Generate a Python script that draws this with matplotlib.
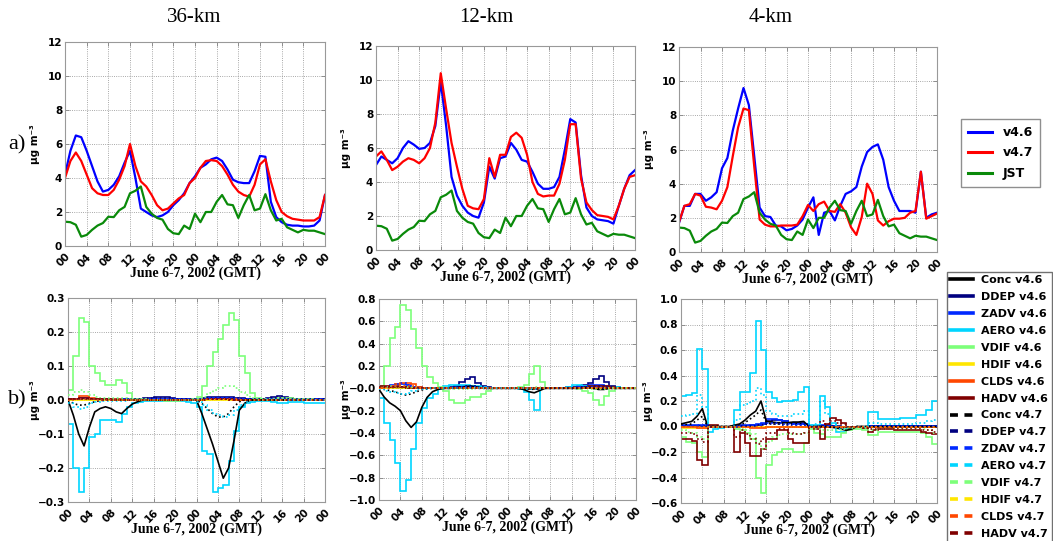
import numpy as np
import matplotlib
matplotlib.use("Agg")
import matplotlib.pyplot as plt
from matplotlib.lines import Line2D
from matplotlib.ticker import FuncFormatter

plt.rcParams["font.family"] = ["DejaVu Sans"]
plt.rcParams["font.weight"] = "bold"

# ---------------------------------------------------------------- axes data
hours = np.arange(49)            # hourly samples, June 6 00 GMT .. June 8 00 GMT
edges = np.arange(49)            # hour boundaries for the process budgets
tick_hours = np.arange(0, 49, 4)
tick_labels = ["00", "04", "08", "12", "16", "20", "00",
               "04", "08", "12", "16", "20", "00"]
panel_titles = ["36-km", "12-km", "4-km"]

# ---------------------------------------------------------------- row a) concentrations
jst_obs = [1.43, 1.4, 1.25, 0.55, 0.65, 0.95, 1.2, 1.35, 1.72, 1.7, 2.1, 2.3,
           3.1, 3.25, 3.5, 2.3, 1.9, 1.65, 1.55, 1.0, 0.75, 0.7, 1.2, 1.0,
           1.9, 1.4, 2.0, 2.0, 2.6, 3.0, 2.45, 2.4, 1.65, 2.4, 3.0, 2.1,
           2.2, 3.05, 2.1, 1.5, 1.6, 1.1, 0.95, 0.8, 0.95, 0.9, 0.9, 0.8,
           0.7]

conc36_v46 = [4.2, 5.6, 6.5, 6.4, 5.6, 4.7, 3.8, 3.2, 3.3, 3.6, 4.1, 4.9,
              5.6, 4.0, 2.2, 2.0, 1.8, 1.7, 1.8, 2.0, 2.4, 2.7, 3.1, 3.7,
              4.1, 4.6, 4.8, 5.1, 5.2, 5.0, 4.5, 3.9, 3.75, 3.7, 3.7, 4.4,
              5.3, 5.25, 2.6, 1.7, 1.4, 1.25, 1.2, 1.2, 1.15, 1.15, 1.2, 1.5,
              3.0]
conc36_v47 = [4.0, 5.0, 5.5, 5.0, 4.2, 3.4, 3.1, 3.0, 3.0, 3.3, 3.9, 4.7,
              6.0, 4.7, 3.8, 3.5, 3.0, 2.4, 2.1, 2.2, 2.5, 2.8, 3.0, 3.7,
              4.0, 4.6, 5.0, 5.05, 5.0, 4.7, 4.2, 3.6, 3.2, 3.0, 2.9, 3.6,
              4.8, 5.1, 3.8, 2.7, 2.0, 1.75, 1.6, 1.55, 1.5, 1.5, 1.5, 1.7,
              3.0]

conc12_v46 = [5.0, 5.5, 5.3, 5.1, 5.4, 6.0, 6.4, 6.2, 5.95, 6.0, 6.3, 7.3,
              9.9, 7.3, 4.3, 3.2, 2.6, 2.2, 2.0, 1.9, 2.8, 4.9, 4.2, 5.4,
              5.5, 6.3, 5.9, 5.3, 5.2, 4.6, 3.9, 3.6, 3.6, 3.7, 4.3, 5.9,
              7.7, 7.5, 4.4, 2.5, 2.0, 1.8, 1.75, 1.7, 1.55, 2.6, 3.6, 4.4,
              4.7]
conc12_v47 = [5.5, 5.8, 5.3, 4.7, 4.9, 5.2, 5.4, 5.3, 5.1, 5.4, 6.0, 7.5,
              10.4, 8.3, 6.3, 4.9, 3.6, 2.6, 2.45, 2.4, 3.0, 5.4, 4.3, 5.6,
              5.6, 6.65, 6.9, 6.6, 5.6, 4.0, 3.3, 3.15, 3.2, 3.2, 3.9, 5.3,
              7.4, 7.4, 4.2, 2.8, 2.35, 2.05, 2.0, 1.95, 1.8, 2.6, 3.6, 4.3,
              4.4]

conc4_v46 = [1.7, 2.7, 2.7, 3.4, 3.4, 3.0, 3.2, 3.5, 4.9, 5.5, 7.1, 8.4,
             9.6, 8.6, 5.6, 2.6, 2.1, 2.05, 1.55, 1.5, 1.27, 1.35, 1.55, 1.9,
             2.6, 3.2, 1.0, 2.3, 2.4, 1.85, 2.7, 3.4, 3.55, 3.8, 5.0, 5.85,
             6.15, 6.3, 5.4, 3.8, 3.0, 2.4, 2.4, 2.4, 2.3, 4.7, 2.0, 2.2,
             2.3]
conc4_v47 = [1.75, 2.7, 2.8, 3.4, 3.3, 2.65, 2.6, 2.5, 3.0, 3.8, 5.6, 7.3,
             8.4, 8.3, 5.0, 1.9, 1.6, 1.5, 1.5, 1.55, 1.55, 1.55, 1.6, 2.1,
             2.75, 2.4, 2.8, 2.95, 2.4, 2.35, 2.8, 2.3, 1.45, 1.0, 2.05, 4.0,
             3.4, 1.85, 1.55, 1.8, 1.95, 1.95, 2.0, 2.3, 2.4, 4.7, 1.95, 2.1,
             2.25]

# ---------------------------------------------------------------- row b) 36-km process budgets
b36_conc_v46 = [0.0, -0.045, -0.1, -0.135, -0.08, -0.035, -0.025, -0.02, -0.025, -0.035, -0.04, -0.025,
                -0.012, -0.005, 0.0, 0.0, 0.0, 0.0, 0.0, 0.0, 0.0, 0.0, 0.0, 0.0,
                0.0, -0.04, -0.085, -0.13, -0.18, -0.23, -0.2, -0.12, -0.03, -0.01, 0.0, 0.0,
                0.0, 0.0, 0.0, 0.0, 0.0, 0.0, 0.0, 0.0, 0.0, 0.0, 0.0, 0.0,
                0.0]
b36_ddep_v46 = [0.002, 0.002, 0.003, 0.003, 0.003, 0.003, 0.003, 0.003, 0.003, 0.003, 0.003, 0.003,
                0.003, 0.004, 0.005, 0.007, 0.010, 0.010, 0.008, 0.005, 0.004, 0.003, 0.003, 0.003,
                0.004, 0.006, 0.008, 0.009, 0.010, 0.010, 0.009, 0.007, 0.005, 0.004, 0.003, 0.003,
                0.004, 0.006, 0.010, 0.011, 0.009, 0.006, 0.004, 0.003, 0.003, 0.003, 0.002, 0.002]
b36_zadv_v46 = [0.002, 0.004, 0.006, 0.006, 0.004, 0.003, 0.002, 0.002, 0.002, 0.002, 0.002, 0.002,
                0.002, 0.002, 0.002, 0.003, 0.004, 0.004, 0.003, 0.002, 0.002, 0.002, 0.002, 0.002,
                0.003, 0.004, 0.005, 0.006, 0.007, 0.007, 0.006, 0.004, 0.003, 0.002, 0.002, 0.002,
                0.002, 0.003, 0.004, 0.004, 0.003, 0.002, 0.002, 0.002, 0.002, 0.002, 0.002, 0.002]
b36_aero_v46 = [-0.07, -0.2, -0.27, -0.2, -0.11, -0.1, -0.06, -0.06, -0.06, -0.065, -0.04, -0.02,
                -0.01, -0.005, -0.003, -0.002, -0.002, -0.003, -0.002, -0.002, -0.002, -0.003, -0.005, -0.01,
                -0.02, -0.15, -0.16, -0.27, -0.26, -0.25, -0.18, -0.09, -0.02, -0.01, -0.005, -0.003,
                -0.003, -0.002, -0.005, -0.008, -0.008, -0.005, -0.005, -0.006, -0.008, -0.01, -0.01, -0.01]
b36_vdif_v46 = [0.03, 0.13, 0.24, 0.23, 0.10, 0.08, 0.055, 0.045, 0.045, 0.06, 0.05, 0.02,
                0.003, 0.002, 0.002, 0.001, 0.001, 0.0, -0.002, -0.003, -0.002, 0.0, 0.001, 0.002,
                0.01, 0.04, 0.1, 0.14, 0.18, 0.22, 0.255, 0.235, 0.13, 0.08, 0.02, 0.005,
                0.002, 0.002, 0.004, 0.006, 0.006, 0.005, 0.004, 0.003, 0.002, 0.002, 0.001, 0.001]
b36_hdif_v46 = [0.0, 0.001, 0.001, 0.001, 0.001, 0.0, 0.0, 0.0, 0.0, 0.0, 0.0, 0.0,
                0.0, 0.0, 0.0, 0.0, 0.0, 0.0, 0.0, 0.0, 0.0, 0.0, 0.0, 0.0,
                0.0, 0.001, 0.001, 0.001, 0.001, 0.001, 0.001, 0.0, 0.0, 0.0, 0.0, 0.0,
                0.0, 0.0, 0.0, 0.0, 0.0, 0.0, 0.0, 0.0, 0.0, 0.0, 0.0, 0.0]
b36_clds_v46 = [0.002, 0.004, 0.012, 0.013, 0.006, 0.003, 0.002, 0.002, 0.002, 0.002, 0.001, 0.001,
                0.001, 0.0, 0.0, 0.0, 0.0, 0.0, 0.0, 0.0, 0.0, 0.0, 0.0, 0.001,
                0.001, 0.002, 0.003, 0.004, 0.004, 0.004, 0.003, 0.002, 0.001, 0.001, 0.0, 0.0,
                0.0, 0.0, 0.0, 0.0, 0.0, 0.0, 0.0, 0.0, 0.0, 0.0, 0.0, 0.0]
b36_hadv_v46 = [0.003, 0.004, 0.005, 0.005, 0.004, 0.003, 0.002, 0.002, 0.001, 0.001, 0.001, 0.0,
                0.0, 0.0, -0.001, -0.001, -0.001, -0.001, -0.001, 0.0, 0.0, 0.0, 0.0, 0.0,
                0.001, 0.002, 0.003, 0.003, 0.003, 0.003, 0.002, 0.001, 0.001, 0.0, 0.0, 0.0,
                -0.001, -0.001, -0.001, -0.001, -0.001, 0.0, 0.0, 0.0, 0.0, 0.0, 0.0, 0.0]
b36_conc_v47 = [0.0, -0.01, -0.015, -0.015, -0.01, -0.005, -0.002, 0.0, 0.0, 0.0, 0.0, 0.0,
                0.0, 0.0, 0.0, 0.0, 0.0, 0.0, 0.0, 0.0, 0.0, 0.0, 0.0, 0.0,
                0.0, -0.01, -0.025, -0.04, -0.05, -0.05, -0.04, -0.02, -0.005, 0.0, 0.0, 0.0,
                0.0, 0.0, 0.0, 0.0, 0.0, 0.0, 0.0, 0.0, 0.0, 0.0, 0.0, 0.0,
                0.0]
b36_ddep_v47 = [0.002, 0.002, 0.002, 0.002, 0.002, 0.002, 0.002, 0.002, 0.002, 0.002, 0.002, 0.002,
                0.002, 0.003, 0.004, 0.005, 0.007, 0.007, 0.006, 0.004, 0.003, 0.002, 0.002, 0.002,
                0.003, 0.004, 0.005, 0.006, 0.007, 0.007, 0.006, 0.005, 0.004, 0.003, 0.002, 0.002,
                0.003, 0.004, 0.006, 0.007, 0.006, 0.004, 0.003, 0.002, 0.002, 0.002, 0.002, 0.002]
b36_zadv_v47 = [0.001, 0.002, 0.003, 0.003, 0.002, 0.001, 0.001, 0.001, 0.001, 0.001, 0.001, 0.001,
                0.001, 0.001, 0.001, 0.002, 0.002, 0.002, 0.002, 0.001, 0.001, 0.001, 0.001, 0.001,
                0.002, 0.003, 0.004, 0.005, 0.005, 0.005, 0.004, 0.003, 0.002, 0.001, 0.001, 0.001,
                0.001, 0.002, 0.002, 0.002, 0.002, 0.001, 0.001, 0.001, 0.001, 0.001, 0.001, 0.001]
b36_aero_v47 = [-0.01, -0.02, -0.025, -0.02, -0.01, -0.006, -0.004, -0.003, -0.003, -0.003, -0.002, -0.001,
                0.0, 0.0, 0.0, 0.0, 0.0, 0.0, 0.0, 0.0, 0.0, 0.0, 0.0, -0.001,
                -0.005, -0.015, -0.03, -0.04, -0.045, -0.05, -0.045, -0.03, -0.015, -0.005, -0.002, 0.0,
                0.0, 0.0, 0.0, 0.0, 0.0, 0.0, 0.0, 0.0, 0.0, 0.0, 0.0, 0.0]
b36_vdif_v47 = [0.015, 0.025, 0.03, 0.025, 0.015, 0.01, 0.005, 0.005, 0.005, 0.005, 0.005, 0.003,
                0.0, 0.0, 0.0, 0.0, 0.0, 0.0, 0.0, 0.0, 0.0, 0.0, 0.0, 0.0,
                0.002, 0.01, 0.02, 0.03, 0.035, 0.04, 0.04, 0.035, 0.025, 0.015, 0.005, 0.0,
                0.0, 0.0, 0.0, 0.0, 0.0, 0.0, 0.0, 0.0, 0.0, 0.0, 0.0, 0.0]
b36_hdif_v47 = [0.0, 0.0, 0.001, 0.001, 0.0, 0.0, 0.0, 0.0, 0.0, 0.0, 0.0, 0.0,
                0.0, 0.0, 0.0, 0.0, 0.0, 0.0, 0.0, 0.0, 0.0, 0.0, 0.0, 0.0,
                0.0, 0.0, 0.001, 0.001, 0.001, 0.001, 0.0, 0.0, 0.0, 0.0, 0.0, 0.0,
                0.0, 0.0, 0.0, 0.0, 0.0, 0.0, 0.0, 0.0, 0.0, 0.0, 0.0, 0.0]
b36_clds_v47 = [0.001, 0.002, 0.004, 0.004, 0.002, 0.001, 0.001, 0.001, 0.0, 0.0, 0.0, 0.0,
                0.0, 0.0, 0.0, 0.0, 0.0, 0.0, 0.0, 0.0, 0.0, 0.0, 0.0, 0.0,
                0.0, 0.001, 0.002, 0.002, 0.002, 0.002, 0.001, 0.001, 0.0, 0.0, 0.0, 0.0,
                0.0, 0.0, 0.0, 0.0, 0.0, 0.0, 0.0, 0.0, 0.0, 0.0, 0.0, 0.0]
b36_hadv_v47 = [0.002, 0.003, 0.003, 0.003, 0.002, 0.002, 0.001, 0.001, 0.001, 0.0, 0.0, 0.0,
                0.0, 0.0, 0.0, -0.001, -0.001, -0.001, 0.0, 0.0, 0.0, 0.0, 0.0, 0.0,
                0.001, 0.001, 0.002, 0.002, 0.002, 0.002, 0.001, 0.001, 0.0, 0.0, 0.0, 0.0,
                0.0, -0.001, -0.001, -0.001, 0.0, 0.0, 0.0, 0.0, 0.0, 0.0, 0.0, 0.0]

# ---------------------------------------------------------------- row b) 12-km process budgets
b12_conc_v46 = [-0.01, -0.08, -0.13, -0.16, -0.2, -0.29, -0.35, -0.3, -0.17, -0.08, -0.03, -0.01,
                0.0, 0.0, 0.005, 0.01, 0.015, 0.02, 0.015, 0.005, 0.0, 0.0, 0.0, 0.0,
                0.0, 0.0, 0.0, -0.01, -0.03, -0.04, -0.02, 0.0, 0.0, 0.0, 0.0, 0.0,
                0.0, 0.0, 0.005, 0.01, 0.0, -0.01, -0.01, 0.0, 0.0, 0.0, 0.0, 0.0,
                0.0]
b12_ddep_v46 = [0.005, 0.01, 0.01, 0.01, 0.01, 0.01, 0.01, 0.01, 0.005, 0.005, 0.005, 0.005,
                0.005, 0.01, 0.02, 0.06, 0.08, 0.1, 0.05, 0.02, 0.01, 0.005, 0.005, 0.005,
                0.005, 0.005, 0.005, 0.005, 0.005, 0.005, 0.005, 0.005, 0.005, 0.005, 0.005, 0.01,
                0.01, 0.02, 0.03, 0.05, 0.08, 0.11, 0.06, 0.02, 0.01, 0.005, 0.005, 0.005]
b12_zadv_v46 = [0.005, 0.01, 0.03, 0.04, 0.04, 0.03, 0.01, 0.005, 0.005, 0.005, 0.005, 0.005,
                0.005, 0.005, 0.01, 0.02, 0.02, 0.02, 0.015, 0.01, 0.005, 0.005, 0.005, 0.005,
                0.005, 0.005, 0.005, 0.005, 0.005, 0.005, 0.005, 0.005, 0.005, 0.005, 0.005, 0.005,
                0.005, 0.01, 0.02, 0.03, 0.03, 0.03, 0.02, 0.01, 0.005, 0.005, 0.005, 0.005]
b12_aero_v46 = [-0.09, -0.31, -0.46, -0.67, -0.92, -0.82, -0.54, -0.31, -0.18, -0.09, -0.05, -0.01,
                0.02, 0.03, 0.03, 0.03, 0.03, 0.02, 0.02, 0.01, 0.005, 0.0, 0.0, 0.0,
                0.0, 0.0, -0.01, -0.03, -0.1, -0.19, 0.0, 0.0, 0.0, 0.0, 0.0, 0.01,
                0.03, 0.03, 0.02, 0.02, 0.01, 0.01, 0.01, 0.01, 0.01, 0.005, 0.005, 0.0]
b12_vdif_v46 = [0.02, 0.2, 0.45, 0.55, 0.75, 0.7, 0.53, 0.36, 0.2, 0.1, 0.045, 0.01,
                -0.02, -0.1, -0.13, -0.13, -0.1, -0.08, -0.08, -0.05, -0.02, 0.0, 0.0, 0.0,
                0.0, 0.0, 0.01, 0.03, 0.13, 0.2, 0.06, 0.0, 0.0, 0.0, 0.0, 0.0,
                0.0, -0.01, -0.02, -0.04, -0.1, -0.15, -0.07, -0.02, 0.0, 0.0, 0.0, 0.0]
b12_hdif_v46 = [0.0, 0.002, 0.003, 0.003, 0.003, 0.002, 0.0, 0.0, 0.0, 0.0, 0.0, 0.0,
                0.0, 0.0, 0.0, 0.0, 0.0, 0.0, 0.0, 0.0, 0.0, 0.0, 0.0, 0.0,
                0.0, 0.0, 0.0, 0.0, 0.0, 0.0, 0.0, 0.0, 0.0, 0.0, 0.0, 0.0,
                0.0, 0.0, 0.0, 0.0, 0.0, 0.0, 0.0, 0.0, 0.0, 0.0, 0.0, 0.0]
b12_clds_v46 = [0.005, 0.01, 0.02, 0.04, 0.05, 0.05, 0.04, 0.01, 0.005, 0.0, 0.0, 0.0,
                0.0, 0.0, 0.005, 0.005, 0.01, 0.01, 0.005, 0.0, 0.0, 0.0, 0.0, 0.0,
                0.0, 0.0, 0.0, 0.0, 0.0, 0.0, 0.0, 0.0, 0.0, 0.0, 0.0, 0.0,
                0.0, 0.0, 0.005, 0.01, 0.01, 0.01, 0.005, 0.0, 0.0, 0.0, 0.0, 0.0]
b12_hadv_v46 = [0.02, 0.02, 0.01, 0.02, 0.01, 0.005, 0.005, 0.0, 0.0, 0.0, 0.0, 0.0,
                0.0, 0.0, 0.005, 0.01, 0.01, 0.01, 0.005, 0.0, 0.0, 0.0, 0.0, 0.0,
                0.0, 0.0, 0.0, -0.005, -0.01, -0.01, 0.0, 0.0, 0.0, 0.0, 0.0, 0.0,
                0.0, 0.0, 0.01, 0.02, 0.02, 0.02, 0.02, 0.01, 0.0, 0.0, 0.0, 0.0]
b12_conc_v47 = [0.0, -0.01, -0.02, -0.03, -0.05, -0.06, -0.05, -0.03, -0.015, -0.005, 0.0, 0.0,
                0.0, 0.0, 0.0, 0.005, 0.005, 0.005, 0.0, 0.0, 0.0, 0.0, 0.0, 0.0,
                0.0, 0.0, 0.0, 0.0, -0.005, -0.01, 0.0, 0.0, 0.0, 0.0, 0.0, 0.0,
                0.0, 0.0, 0.0, 0.005, 0.005, 0.0, 0.0, 0.0, 0.0, 0.0, 0.0, 0.0,
                0.0]
b12_ddep_v47 = [0.005, 0.005, 0.005, 0.005, 0.005, 0.005, 0.005, 0.005, 0.005, 0.005, 0.005, 0.005,
                0.005, 0.005, 0.01, 0.015, 0.02, 0.02, 0.015, 0.01, 0.005, 0.005, 0.005, 0.005,
                0.005, 0.005, 0.005, 0.005, 0.005, 0.005, 0.005, 0.005, 0.005, 0.005, 0.005, 0.005,
                0.005, 0.005, 0.01, 0.015, 0.02, 0.02, 0.015, 0.01, 0.005, 0.005, 0.005, 0.005]
b12_zadv_v47 = [0.005, 0.01, 0.02, 0.04, 0.05, 0.03, 0.01, 0.005, 0.005, 0.005, 0.005, 0.005,
                0.005, 0.005, 0.005, 0.01, 0.01, 0.01, 0.005, 0.005, 0.005, 0.005, 0.005, 0.005,
                0.005, 0.005, 0.005, 0.005, 0.005, 0.005, 0.005, 0.005, 0.005, 0.005, 0.005, 0.005,
                0.005, 0.005, 0.01, 0.01, 0.01, 0.01, 0.005, 0.005, 0.005, 0.005, 0.005, 0.005]
b12_aero_v47 = [-0.01, -0.02, -0.03, -0.04, -0.05, -0.04, -0.02, -0.01, -0.005, 0.0, 0.0, 0.0,
                0.0, 0.0, 0.0, 0.0, 0.0, 0.0, 0.0, 0.0, 0.0, 0.0, 0.0, 0.0,
                0.0, 0.0, 0.0, -0.005, -0.01, -0.01, 0.0, 0.0, 0.0, 0.0, 0.0, 0.0,
                0.0, 0.0, 0.0, 0.0, 0.0, 0.0, 0.0, 0.0, 0.0, 0.0, 0.0, 0.0]
b12_vdif_v47 = [0.0, 0.01, 0.02, 0.02, 0.02, 0.015, 0.01, 0.005, 0.0, 0.0, 0.0, 0.0,
                0.0, -0.005, -0.01, -0.01, -0.01, -0.005, 0.0, 0.0, 0.0, 0.0, 0.0, 0.0,
                0.0, 0.0, 0.0, 0.0, 0.005, 0.01, 0.0, 0.0, 0.0, 0.0, 0.0, 0.0,
                0.0, 0.0, 0.0, -0.005, -0.01, -0.01, -0.005, 0.0, 0.0, 0.0, 0.0, 0.0]
b12_hdif_v47 = [0.0, 0.0, 0.002, 0.002, 0.002, 0.0, 0.0, 0.0, 0.0, 0.0, 0.0, 0.0,
                0.0, 0.0, 0.0, 0.0, 0.0, 0.0, 0.0, 0.0, 0.0, 0.0, 0.0, 0.0,
                0.0, 0.0, 0.0, 0.0, 0.0, 0.0, 0.0, 0.0, 0.0, 0.0, 0.0, 0.0,
                0.0, 0.0, 0.0, 0.0, 0.0, 0.0, 0.0, 0.0, 0.0, 0.0, 0.0, 0.0]
b12_clds_v47 = [0.0, 0.005, 0.01, 0.02, 0.02, 0.02, 0.02, 0.005, 0.0, 0.0, 0.0, 0.0,
                0.0, 0.0, 0.0, 0.005, 0.005, 0.005, 0.0, 0.0, 0.0, 0.0, 0.0, 0.0,
                0.0, 0.0, 0.0, 0.0, 0.0, 0.0, 0.0, 0.0, 0.0, 0.0, 0.0, 0.0,
                0.0, 0.0, 0.0, 0.005, 0.005, 0.005, 0.0, 0.0, 0.0, 0.0, 0.0, 0.0]
b12_hadv_v47 = [0.01, 0.01, 0.01, 0.01, 0.01, 0.005, 0.0, 0.0, 0.0, 0.0, 0.0, 0.0,
                0.0, 0.0, 0.005, 0.005, 0.005, 0.005, 0.0, 0.0, 0.0, 0.0, 0.0, 0.0,
                0.0, 0.0, 0.0, 0.0, 0.0, 0.0, 0.0, 0.0, 0.0, 0.0, 0.0, 0.0,
                0.0, 0.0, 0.005, 0.01, 0.01, 0.01, 0.005, 0.0, 0.0, 0.0, 0.0, 0.0]

# ---------------------------------------------------------------- row b) 4-km process budgets
b4_conc_v46 = [0.02, 0.03, 0.04, 0.08, 0.14, 0.0, 0.0, 0.0, 0.0, 0.0, 0.01, 0.02,
               0.05, 0.09, 0.12, 0.2, 0.04, 0.035, 0.03, 0.03, 0.03, 0.035, 0.035, 0.04,
               0.0, 0.0, 0.0, 0.0, -0.005, -0.01, -0.02, -0.03, -0.02, 0.0, 0.0, 0.0,
               0.0, 0.0, 0.0, 0.0, 0.0, 0.0, 0.0, 0.0, 0.0, 0.0, 0.0, 0.0,
               0.0]
b4_ddep_v46 = [0.005, 0.005, 0.005, 0.005, 0.005, 0.0, 0.0, 0.0, 0.0, 0.0, 0.003, 0.005,
               0.005, 0.008, 0.01, 0.02, 0.04, 0.05, 0.05, 0.04, 0.03, 0.03, 0.03, 0.02,
               0.0, 0.0, 0.005, 0.005, 0.005, 0.005, 0.0, 0.0, 0.0, 0.0, 0.0, 0.005,
               0.005, 0.005, 0.005, 0.005, 0.005, 0.005, 0.005, 0.005, 0.005, 0.005, 0.005, 0.005]
b4_zadv_v46 = [0.01, 0.01, 0.01, 0.015, 0.015, 0.0, 0.0, 0.0, 0.0, 0.0, 0.005, 0.01,
               0.01, 0.01, 0.02, 0.03, 0.06, 0.06, 0.05, 0.04, 0.03, 0.02, 0.02, 0.02,
               0.0, 0.0, 0.01, 0.01, 0.005, 0.0, 0.0, 0.0, 0.0, 0.0, 0.0, 0.005,
               0.005, 0.005, 0.005, 0.005, 0.005, 0.005, 0.005, 0.005, 0.005, 0.005, 0.005, 0.005]
b4_aero_v46 = [0.24, 0.25, 0.26, 0.61, 0.45, -0.04, -0.02, -0.01, 0.0, 0.0, 0.13, 0.27,
               0.27, 0.42, 0.83, 0.6, 0.27, 0.22, 0.19, 0.2, 0.2, 0.21, 0.27, 0.31,
               0.01, 0.01, 0.24, 0.15, 0.03, -0.04, -0.04, -0.01, 0.0, 0.0, 0.0, 0.11,
               0.11, 0.06, 0.06, 0.06, 0.06, 0.07, 0.07, 0.07, 0.09, 0.09, 0.13, 0.2]
b4_vdif_v46 = [-0.08, -0.12, -0.13, -0.2, -0.24, 0.0, 0.0, 0.0, 0.0, 0.0, -0.02, -0.03,
               -0.05, -0.1, -0.4, -0.52, -0.3, -0.22, -0.2, -0.18, -0.18, -0.2, -0.2, -0.13,
               -0.02, -0.05, -0.06, -0.08, -0.08, -0.08, -0.05, -0.03, -0.02, -0.02, -0.03, -0.07,
               -0.07, -0.04, -0.04, -0.04, -0.04, -0.04, -0.04, -0.04, -0.04, -0.05, -0.08, -0.14]
b4_hdif_v46 = [-0.01, -0.01, -0.01, -0.01, -0.01, 0.0, 0.0, 0.0, 0.0, 0.0, 0.0, -0.005,
               -0.005, -0.005, -0.005, -0.005, 0.0, 0.0, 0.0, 0.0, 0.0, 0.0, 0.0, 0.0,
               0.0, 0.0, 0.0, 0.0, 0.0, 0.0, 0.0, 0.0, 0.0, 0.0, 0.0, 0.0,
               0.0, 0.0, 0.0, 0.0, 0.0, 0.0, 0.0, 0.0, 0.0, 0.0, 0.0, 0.0]
b4_clds_v46 = [-0.005, -0.005, -0.005, -0.008, -0.008, 0.0, 0.0, 0.0, 0.0, 0.0, 0.0, -0.005,
               -0.005, -0.01, -0.01, -0.01, -0.005, 0.0, 0.0, 0.0, 0.0, 0.0, 0.0, 0.0,
               0.0, 0.0, 0.0, 0.0, 0.0, 0.0, 0.0, 0.0, 0.0, 0.0, 0.0, 0.0,
               0.0, 0.0, 0.0, 0.0, 0.0, 0.0, 0.0, 0.0, 0.0, 0.0, 0.0, 0.0]
b4_hadv_v46 = [-0.1, -0.1, -0.11, -0.26, -0.3, 0.01, 0.01, 0.0, 0.0, 0.0, -0.2, -0.05,
               -0.13, -0.23, -0.23, -0.18, -0.1, -0.1, -0.03, -0.03, -0.1, -0.13, -0.13, -0.13,
               0.0, -0.02, -0.1, 0.02, 0.07, 0.05, 0.03, 0.0, 0.0, 0.0, -0.01, -0.04,
               -0.03, -0.02, -0.02, -0.02, -0.03, -0.03, -0.03, -0.03, -0.03, -0.04, -0.05, -0.06]
b4_conc_v47 = [0.01, 0.015, 0.02, 0.05, 0.08, 0.0, 0.0, 0.0, 0.0, 0.0, 0.0, 0.01,
               0.03, 0.06, 0.09, 0.13, 0.03, 0.02, 0.02, 0.02, 0.02, 0.02, 0.02, 0.02,
               0.0, 0.0, 0.0, 0.0, 0.0, -0.005, -0.01, -0.015, -0.01, 0.0, 0.0, 0.0,
               0.0, 0.0, 0.0, 0.0, 0.0, 0.0, 0.0, 0.0, 0.0, 0.0, 0.0, 0.0,
               0.0]
b4_ddep_v47 = [0.003, 0.003, 0.003, 0.003, 0.003, 0.0, 0.0, 0.0, 0.0, 0.0, 0.0, 0.003,
               0.003, 0.005, 0.008, 0.01, 0.02, 0.02, 0.02, 0.015, 0.015, 0.01, 0.01, 0.01,
               0.0, 0.0, 0.003, 0.003, 0.003, 0.0, 0.0, 0.0, 0.0, 0.0, 0.0, 0.003,
               0.003, 0.003, 0.003, 0.003, 0.003, 0.003, 0.003, 0.003, 0.003, 0.003, 0.003, 0.003]
b4_zadv_v47 = [0.005, 0.005, 0.005, 0.01, 0.01, 0.0, 0.0, 0.0, 0.0, 0.0, 0.0, 0.005,
               0.005, 0.005, 0.01, 0.02, 0.03, 0.03, 0.03, 0.02, 0.02, 0.01, 0.01, 0.01,
               0.0, 0.0, 0.005, 0.005, 0.0, 0.0, 0.0, 0.0, 0.0, 0.0, 0.0, 0.003,
               0.003, 0.003, 0.003, 0.003, 0.003, 0.003, 0.003, 0.003, 0.003, 0.003, 0.003, 0.003]
b4_aero_v47 = [0.08, 0.09, 0.1, 0.25, 0.15, 0.0, 0.0, 0.0, 0.0, 0.0, 0.05, 0.17,
               0.18, 0.2, 0.3, 0.25, 0.12, 0.1, 0.08, 0.08, 0.08, 0.1, 0.1, 0.12,
               0.01, 0.02, 0.2, 0.1, 0.02, -0.02, -0.02, 0.0, 0.0, 0.0, 0.0, 0.03,
               0.03, 0.02, 0.02, 0.02, 0.02, 0.02, 0.02, 0.02, 0.03, 0.03, 0.04, 0.05]
b4_vdif_v47 = [-0.03, -0.04, -0.05, -0.08, -0.1, 0.0, 0.0, 0.0, 0.0, 0.0, -0.01, -0.02,
               -0.03, -0.06, -0.13, -0.18, -0.12, -0.08, -0.07, -0.06, -0.06, -0.06, -0.06, -0.05,
               -0.01, -0.02, -0.03, -0.03, -0.03, -0.03, -0.02, -0.01, -0.01, -0.01, -0.01, -0.03,
               -0.03, -0.02, -0.02, -0.02, -0.02, -0.02, -0.02, -0.02, -0.02, -0.02, -0.03, -0.05]
b4_hdif_v47 = [-0.005, -0.005, -0.005, -0.005, -0.005, 0.0, 0.0, 0.0, 0.0, 0.0, 0.0, 0.0,
               0.0, -0.003, -0.003, -0.003, 0.0, 0.0, 0.0, 0.0, 0.0, 0.0, 0.0, 0.0,
               0.0, 0.0, 0.0, 0.0, 0.0, 0.0, 0.0, 0.0, 0.0, 0.0, 0.0, 0.0,
               0.0, 0.0, 0.0, 0.0, 0.0, 0.0, 0.0, 0.0, 0.0, 0.0, 0.0, 0.0]
b4_clds_v47 = [-0.003, -0.003, -0.003, -0.005, -0.005, 0.0, 0.0, 0.0, 0.0, 0.0, 0.0, 0.0,
               -0.003, -0.005, -0.005, -0.005, -0.003, 0.0, 0.0, 0.0, 0.0, 0.0, 0.0, 0.0,
               0.0, 0.0, 0.0, 0.0, 0.0, 0.0, 0.0, 0.0, 0.0, 0.0, 0.0, 0.0,
               0.0, 0.0, 0.0, 0.0, 0.0, 0.0, 0.0, 0.0, 0.0, 0.0, 0.0, 0.0]
b4_hadv_v47 = [-0.05, -0.05, -0.06, -0.1, -0.12, 0.0, 0.0, 0.0, 0.0, 0.0, -0.08, -0.03,
               -0.06, -0.1, -0.14, -0.1, -0.05, -0.05, -0.02, -0.02, -0.05, -0.06, -0.06, -0.05,
               0.0, 0.0, 0.04, 0.02, 0.04, 0.03, 0.02, 0.0, 0.0, 0.0, -0.01, -0.02,
               -0.02, -0.02, -0.02, -0.02, -0.02, -0.02, -0.02, -0.02, -0.02, -0.03, -0.03, -0.04]

process_names = ["DDEP", "ZADV", "AERO", "VDIF", "HDIF", "CLDS", "HADV"]
legend_names_v47 = ["Conc v4.7", "DDEP v4.7", "ZDAV v4.7", "AERO v4.7",
                    "VDIF v4.7", "HDIF v4.7", "CLDS v4.7", "HADV v4.7"]

# ---------------------------------------------------------------- style
COL_V46, COL_V47, COL_OBS = "#0000ff", "#ff0000", "#0a8a0a"
proc_colors = plt.cm.jet(np.linspace(0, 1, 7))
serif = ["Liberation Serif", "DejaVu Serif"]

fig = plt.figure(figsize=(10.53, 5.41), dpi=100)
W, H = 1053.0, 541.0


def add_axes_px(left, top, right, bottom):
    return fig.add_axes([left / W, 1 - bottom / H, (right - left) / W, (bottom - top) / H])


def minus_fmt(decimals):
    def f(v, _):
        s = f"{v:.{decimals}f}"
        if s.startswith("-"):
            s = "\u2212" + s[1:]
        return s
    return FuncFormatter(f)


def style_axes(ax, yticks, decimals, label_x):
    ax.set_xlim(0, 48)
    ax.set_ylim(yticks[0], yticks[-1])
    ax.set_xticks(tick_hours)
    ax.set_xticklabels(tick_labels, rotation=45, ha="right", rotation_mode="anchor")
    ax.set_yticks(yticks)
    ax.yaxis.set_major_formatter(minus_fmt(decimals))
    ax.tick_params(axis="both", labelsize=7.5, direction="in", length=3,
                   color="0.5", width=0.6, top=True, right=True, pad=2)
    ax.tick_params(axis="x", pad=4)
    for sp in ax.spines.values():
        sp.set_color("0.6")
        sp.set_linewidth(0.8)
    ax.grid(True, linestyle=":", color="0.55", linewidth=0.6)
    ax.set_axisbelow(True)
    ax.set_xlabel("June 6-7, 2002 (GMT)", family=serif, fontsize=10,
                  fontweight="bold", va="center")
    ax.xaxis.set_label_coords(0.5, -0.135)
    ax.set_ylabel("\u03bcg m\u207b\u00b3", fontsize=7.5, fontweight="bold", va="center")
    ax.yaxis.set_label_coords(label_x, 0.5)


# ---------------------------------------------------------------- row a)
top_boxes = [(65, 42, 325, 246), (376, 46, 635, 250), (679, 47, 937, 252)]
top_series = [(conc36_v46, conc36_v47), (conc12_v46, conc12_v47), (conc4_v46, conc4_v47)]
title_x = [194, 486, 771]
for box, (s46, s47), tx, ttl in zip(top_boxes, top_series, title_x, panel_titles):
    ax = add_axes_px(*box)
    ax.plot(hours, s46, color=COL_V46, lw=1.6)
    ax.plot(hours, s47, color=COL_V47, lw=1.6)
    ax.plot(hours, jst_obs, color=COL_OBS, lw=1.6)
    style_axes(ax, np.arange(0, 13, 2), 0, -0.115)
    fig.text(tx / W, 1 - 17 / H, ttl, family=serif, fontsize=15,
             fontweight="normal", ha="center", va="center")

top_handles = [Line2D([], [], color=c, lw=2.2) for c in (COL_V46, COL_V47, COL_OBS)]
fig.legend(top_handles, ["v4.6", "v4.7", "JST"], loc="upper left",
           bbox_to_anchor=(961 / W, 1 - 119 / H), prop={"size": 9, "weight": "bold"},
           frameon=True, fancybox=False, edgecolor="0.45", borderpad=0.55,
           labelspacing=0.6, handlelength=1.9, handletextpad=0.9, borderaxespad=0)

# ---------------------------------------------------------------- row b)
bottom_boxes = [(68, 298, 325, 502), (379, 299, 636, 500), (681, 299, 937, 503)]
bottom_yticks = [np.round(np.arange(-0.3, 0.31, 0.1), 2),
                 np.round(np.arange(-1.0, 0.81, 0.2), 2),
                 np.round(np.arange(-0.6, 1.01, 0.2), 2)]
bottom_series = [
    (b36_conc_v46, [b36_ddep_v46, b36_zadv_v46, b36_aero_v46, b36_vdif_v46,
                    b36_hdif_v46, b36_clds_v46, b36_hadv_v46],
     b36_conc_v47, [b36_ddep_v47, b36_zadv_v47, b36_aero_v47, b36_vdif_v47,
                    b36_hdif_v47, b36_clds_v47, b36_hadv_v47]),
    (b12_conc_v46, [b12_ddep_v46, b12_zadv_v46, b12_aero_v46, b12_vdif_v46,
                    b12_hdif_v46, b12_clds_v46, b12_hadv_v46],
     b12_conc_v47, [b12_ddep_v47, b12_zadv_v47, b12_aero_v47, b12_vdif_v47,
                    b12_hdif_v47, b12_clds_v47, b12_hadv_v47]),
    (b4_conc_v46, [b4_ddep_v46, b4_zadv_v46, b4_aero_v46, b4_vdif_v46,
                   b4_hdif_v46, b4_clds_v46, b4_hadv_v46],
     b4_conc_v47, [b4_ddep_v47, b4_zadv_v47, b4_aero_v47, b4_vdif_v47,
                   b4_hdif_v47, b4_clds_v47, b4_hadv_v47]),
]
ylab_x = [-0.13, -0.13, -0.13]
for box, yt, (c46, procs46, c47, procs47), lx in zip(bottom_boxes, bottom_yticks,
                                                     bottom_series, ylab_x):
    ax = add_axes_px(*box)
    ax.plot(hours, c46, color="black", lw=1.2, zorder=3)
    for vals, col in zip(procs46, proc_colors):
        ax.stairs(vals, edges, color=col, lw=1.2, baseline=None, zorder=2)
    ax.plot(hours, c47, color="black", lw=1.2, ls=":", zorder=4)
    for vals, col in zip(procs47, proc_colors):
        ax.stairs(vals, edges, color=col, lw=1.2, ls=":", baseline=None, zorder=4)
    style_axes(ax, yt, 1, lx)

fig.text(8 / W, 1 - 145 / H, "a)", family=serif, fontsize=16, fontweight="normal",
         ha="left", va="center")
fig.text(8 / W, 1 - 400 / H, "b)", family=serif, fontsize=16, fontweight="normal",
         ha="left", va="center")

all_colors = ["black"] + list(proc_colors)
bottom_handles = [Line2D([], [], color=c, lw=2.6) for c in all_colors]
bottom_handles += [Line2D([], [], color=c, lw=2.6, ls=(0, (2.2, 1.8))) for c in all_colors]
bottom_labels = ["Conc v4.6"] + [n + " v4.6" for n in process_names] + legend_names_v47
fig.legend(bottom_handles, bottom_labels, loc="upper left",
           bbox_to_anchor=(947 / W, 1 - 272 / H), prop={"size": 8, "weight": "bold"},
           frameon=True, fancybox=False, edgecolor="0.3", borderpad=0.3,
           labelspacing=0.62, handlelength=2.0, handletextpad=0.8, borderaxespad=0)

fig.savefig("out.png", dpi=100, facecolor="white")
